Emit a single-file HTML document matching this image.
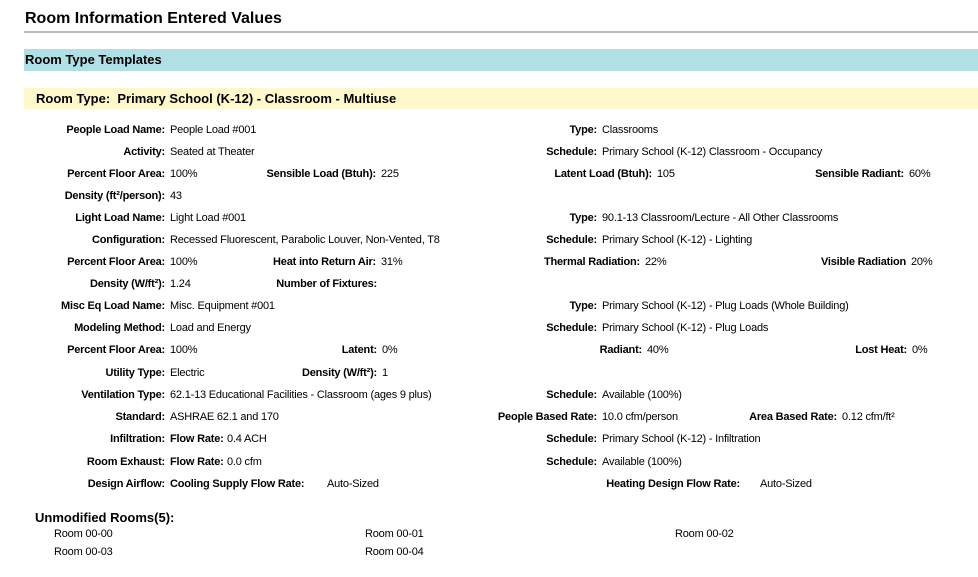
<!DOCTYPE html>
<html><head><meta charset="utf-8">
<style>
html,body{margin:0;padding:0;background:#fff;width:978px;height:577px;overflow:hidden;position:relative;font-family:"Liberation Sans",Arial,sans-serif;color:#000}
.h1{position:absolute;left:25px;top:10px;font-size:16px;font-weight:bold}
.rule{position:absolute;left:24px;top:31px;width:954px;height:2px;background:#bcbcbc}
.band{position:absolute;left:24px;width:954px}
.blue{top:49px;height:22px;background:#b0dfe5}
.yellow{top:88px;height:21px;background:#fff8cc}
.bt{position:absolute;font-weight:bold;font-size:13px}
.l{position:absolute;font-size:11px;font-weight:bold;white-space:nowrap;text-align:right;letter-spacing:-0.2px;line-height:13px}
.v{position:absolute;font-size:11px;white-space:nowrap;letter-spacing:-0.2px;line-height:13px}
</style></head><body>
<div class="h1">Room Information Entered Values</div>
<div class="rule"></div>
<div class="band blue"></div>
<div class="bt" style="left:25px;top:52px">Room Type Templates</div>
<div class="band yellow"></div>
<div class="bt" style="left:36px;top:91px">Room Type:&nbsp; Primary School (K-12) - Classroom - Multiuse</div>
<div class="bt" style="left:35px;top:510px">Unmodified Rooms(5):</div>
<div id="fields"></div>
<script>
var fields = [
 [165,131,"People Load Name:","People Load #001"],[597,131,"Type:","Classrooms"],
 [165,153,"Activity:","Seated at Theater"],[597,153,"Schedule:","Primary School (K-12) Classroom - Occupancy"],
 [165,175,"Percent Floor Area:","100%"],[376,175,"Sensible Load (Btuh):","225"],[652,175,"Latent Load (Btuh):","105"],[904,175,"Sensible Radiant:","60%"],
 [165,197,"Density (ft²/person):","43"],
 [165,219,"Light Load Name:","Light Load #001"],[597,219,"Type:","90.1-13 Classroom/Lecture - All Other Classrooms"],
 [165,241,"Configuration:","Recessed Fluorescent, Parabolic Louver, Non-Vented, T8"],[597,241,"Schedule:","Primary School (K-12) - Lighting"],
 [165,263,"Percent Floor Area:","100%"],[376,263,"Heat into Return Air:","31%"],[640,263,"Thermal Radiation:","22%"],[906,263,"Visible Radiation","20%"],
 [165,285,"Density (W/ft²):","1.24"],[377,285,"Number of Fixtures:",""],
 [165,307,"Misc Eq Load Name:","Misc. Equipment #001"],[597,307,"Type:","Primary School (K-12) - Plug Loads (Whole Building)"],
 [165,329,"Modeling Method:","Load and Energy"],[597,329,"Schedule:","Primary School (K-12) - Plug Loads"],
 [165,351,"Percent Floor Area:","100%"],[377,351,"Latent:","0%"],[642,351,"Radiant:","40%"],[907,351,"Lost Heat:","0%"],
 [165,374,"Utility Type:","Electric"],[377,374,"Density (W/ft²):","1"],
 [165,396,"Ventilation Type:","62.1-13 Educational Facilities - Classroom (ages 9 plus)"],[597,396,"Schedule:","Available (100%)"],
 [165,418,"Standard:","ASHRAE 62.1 and 170"],[597,418,"People Based Rate:","10.0 cfm/person"],[837,418,"Area Based Rate:","0.12 cfm/ft²"],
 [165,440,"Infiltration:","@Flow Rate:@0.4 ACH"],[597,440,"Schedule:","Primary School (K-12) - Infiltration"],
 [165,463,"Room Exhaust:","@Flow Rate:@0.0 cfm"],[597,463,"Schedule:","Available (100%)"],
 [165,485,"Design Airflow:","@Cooling Supply Flow Rate:@"],[740,485,"Heating Design Flow Rate:",""]
];
var extras = [[327,485,"Auto-Sized"],[760,485,"Auto-Sized"]];
var rooms = [[54,535,"Room 00-00"],[365,535,"Room 00-01"],[675,535,"Room 00-02"],[54,553,"Room 00-03"],[365,553,"Room 00-04"]];
var root=document.getElementById('fields');
function slug(s){return s.toLowerCase().replace(/[^a-z0-9]+/g,'-').replace(/^-|-$/g,'');}
fields.forEach(function(f){
  var l=document.createElement('div');
  l.className='l';
  l.style.right=(978-f[0])+'px';
  l.style.top=(f[1]-7)+'px';
  l.textContent=f[2];
  
  
  root.appendChild(l);
  var val=f[3];
  var x=f[0]+5;
  if(val.charAt(0)==='@'){
    var parts=val.split('@');
    var s=document.createElement('div');
    s.className='l';
    s.style.left=x+'px';
    s.style.top=(f[1]-7)+'px';
    s.style.textAlign='left';
    s.textContent=parts[1];
    
    
    root.appendChild(s);
    x += (parts[1].length>12?0:57);
    val=parts[2];
    if(!val) return;
  }
  if(!val) return;
  var v=document.createElement('div');
  v.className='v';
  v.style.left=x+'px';
  v.style.top=(f[1]-7)+'px';
  v.textContent=val;
  
  
  root.appendChild(v);
});
extras.forEach(function(e){
  var v=document.createElement('div');
  v.className='v';
  v.style.left=e[0]+'px';
  v.style.top=(e[1]-7)+'px';
  v.textContent=e[2];
  
  
  root.appendChild(v);
});
rooms.forEach(function(r){
  var v=document.createElement('div');
  v.className='v';
  v.style.left=r[0]+'px';
  v.style.top=(r[1]-7)+'px';
  v.textContent=r[2];
  
  
  root.appendChild(v);
});
</script>
</body></html>
